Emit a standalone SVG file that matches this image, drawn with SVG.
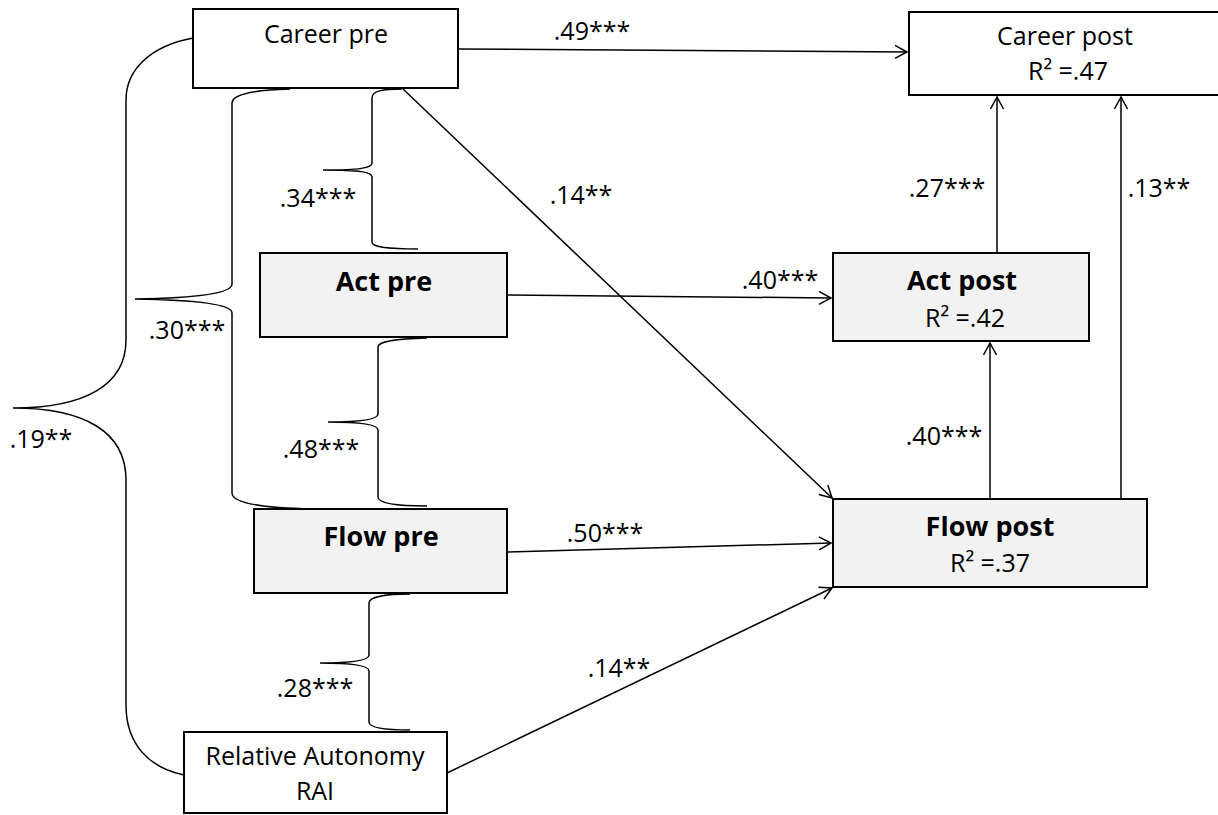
<svg xmlns="http://www.w3.org/2000/svg" width="1218" height="815" viewBox="0 0 1218 815">
<defs>
<marker id="arr" markerUnits="userSpaceOnUse" markerWidth="16" markerHeight="16" viewBox="-14 -8 16 16" refX="0" refY="0" orient="auto">
<path d="M-12,-6.5 L0,0 L-12,6.5" fill="none" stroke="#000" stroke-width="1.5"/>
</marker>
<style>
.box{fill:#fff;stroke:#000;stroke-width:2}
.gbox{fill:#f2f2f2;stroke:#000;stroke-width:2}
.t{font-family:"Open Sans",Lato,sans-serif;font-size:25px;fill:#000;text-anchor:middle}
.b{font-family:"Open Sans",Lato,sans-serif;font-size:27px;font-weight:bold;fill:#000;text-anchor:middle}
.ln{fill:none;stroke:#000;stroke-width:1.5}
.br{fill:none;stroke:#000;stroke-width:1.5}
</style>
</defs>
<rect width="1218" height="815" fill="#fff"/>
<g id="connectors">
<path class="ln" d="M458,49 L907,52" marker-end="url(#arr)"/>
<path class="ln" d="M403,89 L832,498" marker-end="url(#arr)"/>
<path class="ln" d="M507,295 L831,298" marker-end="url(#arr)"/>
<path class="ln" d="M507,552 L831,543" marker-end="url(#arr)"/>
<path class="ln" d="M447,773 L832,588" marker-end="url(#arr)"/>
<path class="ln" d="M997,253 L997,97" marker-end="url(#arr)"/>
<path class="ln" d="M1121,499 L1121,97" marker-end="url(#arr)"/>
<path class="ln" d="M990,499 L990,343" marker-end="url(#arr)"/>
<path class="br" d="M402,89 C382,89 372,91 372,98 L372,163 C372,168 360,170 323,170 C360,170 372,172 372,177 L372,242 C372,247 385,249 418,249"/>
<path class="br" d="M290,89 C252,90 232,95 232,103 L232,284 C232,293 200,298 135,299 C200,300 232,305 232,313 L232,493 C232,503 262,508 313,509"/>
<path class="br" d="M193,38 C150,46 126,70 126,100 L126,340 C126,385 85,408 13,408 C85,408 126,432 126,480 L126,705 C126,745 150,768 184,775"/>
<path class="br" d="M427,338 C395,339 378,341 378,347 L378,414 C378,419 365,422 328,422 C365,422 378,425 378,430 L378,497 C378,503 395,506 427,506"/>
<path class="br" d="M410,594 C385,594 369,597 369,603 L369,655 C369,660 355,663 320,663 C355,663 369,666 369,671 L369,722 C369,728 385,730 410,730"/>
<text class="t" x="592" y="40">.49***</text>
<text class="t" x="581" y="204">.14**</text>
<text class="t" x="318" y="207">.34***</text>
<text class="t" x="187" y="339">.30***</text>
<text class="t" x="41" y="448">.19**</text>
<text class="t" x="321" y="458">.48***</text>
<text class="t" x="315" y="697">.28***</text>
<text class="t" x="780" y="289">.40***</text>
<text class="t" x="605" y="542">.50***</text>
<text class="t" x="619" y="677">.14**</text>
<text class="t" x="947" y="197">.27***</text>
<text class="t" x="1159" y="197">.13**</text>
<text class="t" x="944" y="445">.40***</text>
</g>
<g id="career-pre">
<rect class="box" x="193" y="9" width="265" height="79"/>
<text class="t" x="326" y="43">Career pre</text>
</g>
<g id="career-post">
<rect class="box" x="909" y="12" width="320" height="83"/>
<text class="t" x="1065" y="45">Career post</text>
<text class="t" x="1068" y="80">R² =.47</text>
</g>
<g id="act-pre">
<rect class="gbox" x="260" y="253" width="247" height="84"/>
<text class="b" x="384" y="291">Act pre</text>
</g>
<g id="act-post">
<rect class="gbox" x="833" y="253" width="256" height="88"/>
<text class="b" x="962" y="290">Act post</text>
<text class="t" x="965" y="327">R² =.42</text>
</g>
<g id="flow-pre">
<rect class="gbox" x="254" y="509" width="253" height="84"/>
<text class="b" x="381" y="546">Flow pre</text>
</g>
<g id="flow-post">
<rect class="gbox" x="833" y="499" width="314" height="88"/>
<text class="b" x="990" y="536">Flow post</text>
<text class="t" x="990" y="572">R² =.37</text>
</g>
<g id="rai">
<rect class="box" x="184" y="732" width="263" height="81"/>
<text class="t" x="315" y="765">Relative Autonomy</text>
<text class="t" x="315" y="800">RAI</text>
</g>
</svg>
